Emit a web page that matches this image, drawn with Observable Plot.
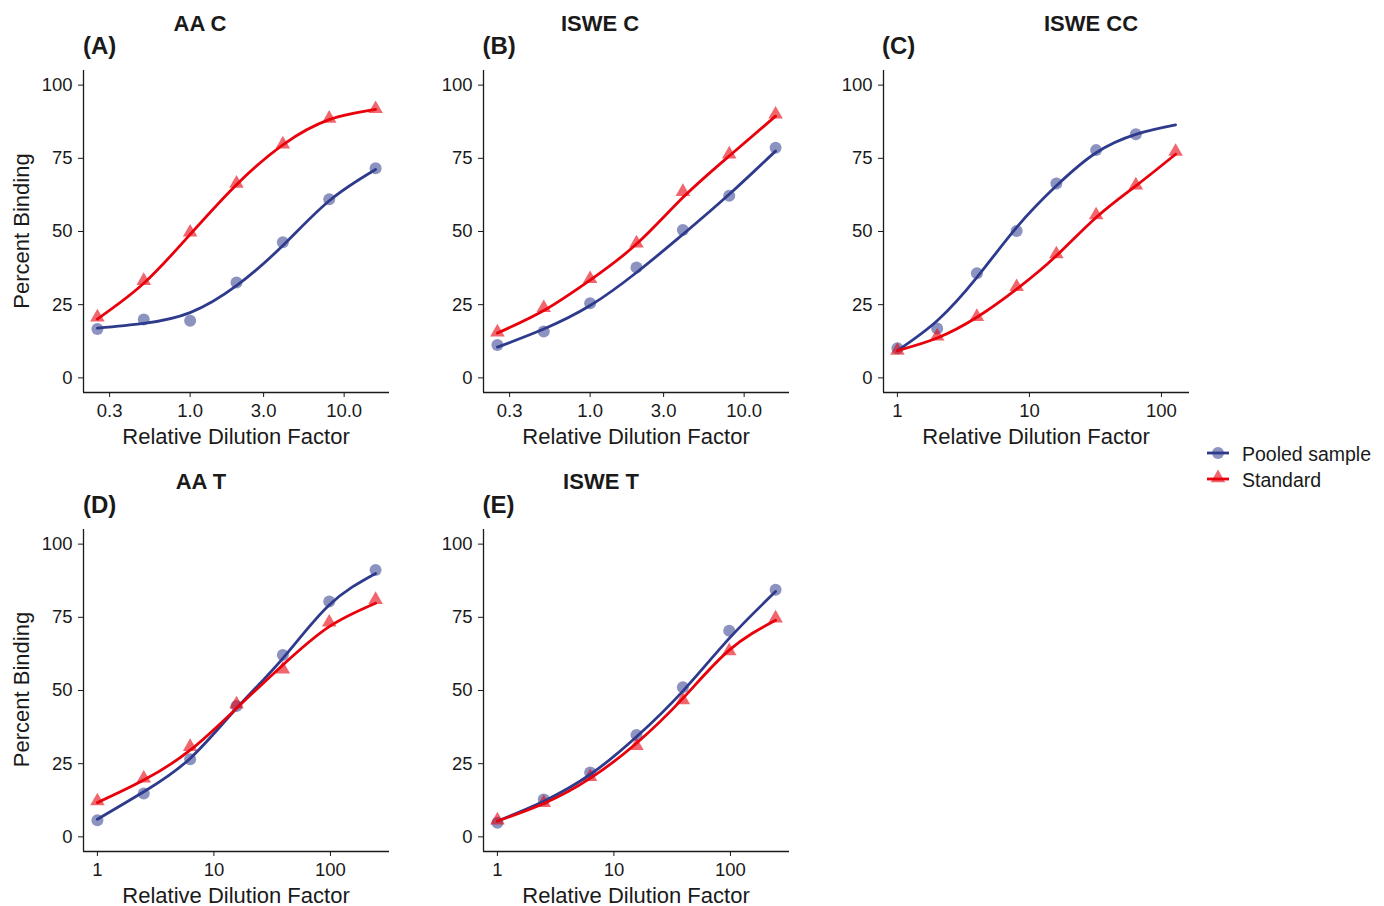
<!DOCTYPE html>
<html>
<head>
<meta charset="utf-8">
<script src="https://cdn.jsdelivr.net/npm/d3@7"></script>
<script src="https://cdn.jsdelivr.net/npm/@observablehq/plot@0.6"></script>
<style>
  html, body { margin: 0; padding: 0; background: #ffffff; }
  body { font-family: "Liberation Sans", Arial, sans-serif; }
  #fig { position: relative; width: 1384px; height: 906px; overflow: hidden; background: #fff; }
  .panel { position: absolute; }
  #overlay { position: absolute; left: 0; top: 0; pointer-events: none; }
</style>
</head>
<body>
<div id="fig"></div>
<script>
// ---------------- data ----------------
const seriesNames = ["Pooled sample", "Standard"];

const panelTitles = ["AA C", "ISWE C", "ISWE CC", "AA T", "ISWE T"];
const panelTags = ["(A)", "(B)", "(C)", "(D)", "(E)"];

const dilutionC = [0.25, 0.5, 1, 2, 4, 8, 16];
const dilutionCC = [1, 2, 4, 8, 16, 32, 64, 128];
const dilutionT = [1, 2.5, 6.25, 15.625, 39.0625, 97.65625, 244.140625];

const ticksC = [0.3, 1, 3, 10];
const tickLabelsC = ["0.3", "1.0", "3.0", "10.0"];
const ticksT = [1, 10, 100];
const tickLabelsT = ["1", "10", "100"];
const yTicks = [0, 25, 50, 75, 100];

// (A) AA C
const aaC_pooled = [16.7, 19.9, 19.5, 32.6, 46.3, 61.0, 71.6];
const aaC_standard = [20.7, 33.2, 49.7, 66.4, 79.8, 88.6, 91.9];
const aaC_pooledFit = [17.0, 18.6, 22.3, 31.5, 45.2, 60.5, 71.2];
const aaC_standardFit = [20.1, 32.3, 49.0, 66.0, 79.6, 88.2, 91.7];
// (B) ISWE C
const isweC_pooled = [11.2, 15.8, 25.5, 37.7, 50.5, 62.2, 78.6];
const isweC_standard = [15.6, 23.9, 33.8, 46.0, 63.6, 76.4, 90.0];
const isweC_pooledFit = [10.5, 16.7, 24.7, 36.0, 49.0, 62.7, 77.5];
const isweC_standardFit = [15.3, 23.0, 33.4, 45.7, 61.6, 75.8, 89.4];
// (C) ISWE CC (pooled points stop at 64)
const isweCC_pooled = [10.1, 16.9, 35.7, 50.2, 66.4, 77.8, 83.2];
const isweCC_standard = [9.3, 14.2, 20.9, 31.1, 42.3, 55.6, 65.8, 77.3];
const isweCC_pooledFit = [9.3, 19.5, 34.3, 51.4, 65.6, 76.9, 83.2, 86.4];
const isweCC_standardFit = [9.3, 13.6, 20.7, 30.3, 41.7, 54.8, 65.6, 76.4];
// (D) AA T
const aaT_pooled = [5.7, 14.8, 26.5, 44.7, 62.1, 80.4, 91.2];
const aaT_standard = [12.2, 20.0, 30.8, 45.3, 57.2, 73.3, 81.0];
const aaT_pooledFit = [6.0, 15.4, 26.8, 43.9, 61.0, 79.2, 90.0];
const aaT_standardFit = [11.7, 19.4, 29.6, 43.9, 58.7, 71.8, 79.8];
// (E) ISWE T
const isweT_pooled = [4.8, 12.8, 22.0, 34.8, 51.1, 70.4, 84.4];
const isweT_standard = [5.7, 11.6, 20.5, 31.1, 46.7, 63.5, 74.7];
const isweT_pooledFit = [5.4, 12.2, 21.3, 34.2, 49.8, 67.8, 83.8];
const isweT_standardFit = [5.4, 11.4, 20.0, 32.0, 47.3, 63.8, 74.0];

// ---------------- style ----------------
const BLUE = "#2E3A8C";
const RED = "#E8000B";
const INK = "#1a1a1a";
const FONT = "'Liberation Sans', Arial, Helvetica, sans-serif";

const panels = [
  { ox: 0,   oy: 0,     dil: dilutionC,  ticks: ticksC, labels: tickLabelsC, pooled: aaC_pooled,    standard: aaC_standard,    pooledFit: aaC_pooledFit,    standardFit: aaC_standardFit,    ylab: true },
  { ox: 400, oy: 0,     dil: dilutionC,  ticks: ticksC, labels: tickLabelsC, pooled: isweC_pooled,  standard: isweC_standard,  pooledFit: isweC_pooledFit,  standardFit: isweC_standardFit,  ylab: false },
  { ox: 800, oy: 0,     dil: dilutionCC, ticks: ticksT, labels: tickLabelsT, pooled: isweCC_pooled, standard: isweCC_standard, pooledFit: isweCC_pooledFit, standardFit: isweCC_standardFit, ylab: false },
  { ox: 0,   oy: 458.5, dil: dilutionT,  ticks: ticksT, labels: tickLabelsT, pooled: aaT_pooled,    standard: aaT_standard,    pooledFit: aaT_pooledFit,    standardFit: aaT_standardFit,    ylab: true },
  { ox: 400, oy: 458.5, dil: dilutionT,  ticks: ticksT, labels: tickLabelsT, pooled: isweT_pooled,  standard: isweT_standard,  pooledFit: isweT_pooledFit,  standardFit: isweT_standardFit,  ylab: false }
];

const W = 400, H = 450, ML = 83, MR = 11, MT = 70, MB = 58;
const fig = document.getElementById("fig");

function toPts(xs, ys) { return ys.map((v, i) => ({ x: xs[i], y: v })); }

panels.forEach((p, k) => {
  const lo = Math.log10(d3.min(p.dil)), hi = Math.log10(d3.max(p.dil));
  const pad = (hi - lo) * 0.05;
  const xDomain = [Math.pow(10, lo - pad), Math.pow(10, hi + pad)];
  const labelOf = new Map(p.ticks.map((t, i) => [t, p.labels[i]]));

  const chart = Plot.plot({
    width: W, height: H,
    marginLeft: ML, marginRight: MR, marginTop: MT, marginBottom: MB,
    style: { fontFamily: FONT, fontSize: "18.5px", color: INK, background: "transparent", overflow: "visible" },
    x: { type: "log", domain: xDomain, ticks: p.ticks, tickFormat: d => labelOf.get(d), tickSize: 5, tickPadding: 6, label: null },
    y: { domain: [-5, 105], ticks: yTicks, tickSize: 5, tickPadding: 6, label: null },
    marks: [
      Plot.ruleY([-5], { stroke: INK, strokeWidth: 1.3 }),
      Plot.ruleX([xDomain[0]], { stroke: INK, strokeWidth: 1.3 }),
      Plot.dot(toPts(p.dil, p.pooled), { x: "x", y: "y", r: 6, symbol: "circle", fill: BLUE, fillOpacity: 0.55, stroke: "none" }),
      Plot.dot(toPts(p.dil, p.standard), { x: "x", y: "y", r: 5.4, symbol: "triangle", fill: RED, fillOpacity: 0.6, stroke: "none" }),
      Plot.line(toPts(p.dil, p.pooledFit), { x: "x", y: "y", stroke: BLUE, strokeWidth: 2.8, curve: "natural" }),
      Plot.line(toPts(p.dil, p.standardFit), { x: "x", y: "y", stroke: RED, strokeWidth: 2.8, curve: "natural" })
    ]
  });
  const holder = document.createElement("div");
  holder.className = "panel";
  holder.style.left = p.ox + "px";
  holder.style.top = p.oy + "px";
  holder.appendChild(chart);
  fig.appendChild(holder);
});

// ---------------- text overlay & legend ----------------
const NS = "http://www.w3.org/2000/svg";
const svg = document.createElementNS(NS, "svg");
svg.setAttribute("id", "overlay");
svg.setAttribute("width", 1384);
svg.setAttribute("height", 906);
svg.setAttribute("font-family", FONT);
fig.appendChild(svg);

function txt(s, x, y, opts = {}) {
  const t = document.createElementNS(NS, "text");
  t.setAttribute("x", x); t.setAttribute("y", y);
  t.setAttribute("fill", opts.fill || INK);
  t.setAttribute("font-size", opts.size || 20);
  if (opts.bold) t.setAttribute("font-weight", "bold");
  t.setAttribute("text-anchor", opts.anchor || "start");
  if (opts.rotate) t.setAttribute("transform", `rotate(-90 ${x} ${y})`);
  t.textContent = s;
  svg.appendChild(t);
}

const titleX = [200, 600, 1091, 201, 601];
const titleBase = [31, 31, 31, 489, 489];
const tagX = [83, 482.5, 882, 83, 482.5];
const tagBase = [54, 54, 54, 513, 513];

panels.forEach((p, k) => {
  txt(panelTitles[k], titleX[k], titleBase[k], { bold: true, size: 22, anchor: "middle" });
  txt(panelTags[k], tagX[k], tagBase[k], { bold: true, size: 24 });
  const cx = p.ox + (ML + (W - MR)) / 2;
  txt("Relative Dilution Factor", cx, p.oy + 444, { size: 22, anchor: "middle" });
  if (p.ylab) txt("Percent Binding", p.ox + 29, p.oy + 231, { size: 22, anchor: "middle", rotate: true });
});

// legend
const legY = [453, 479];
const legColors = [BLUE, RED];
seriesNames.forEach((name, i) => {
  const y = legY[i];
  const ln = document.createElementNS(NS, "line");
  ln.setAttribute("x1", 1207); ln.setAttribute("x2", 1229);
  ln.setAttribute("y1", y); ln.setAttribute("y2", y);
  ln.setAttribute("stroke", legColors[i]); ln.setAttribute("stroke-width", 2.8);
  if (i === 0) {
    const c = document.createElementNS(NS, "circle");
    c.setAttribute("cx", 1218); c.setAttribute("cy", y); c.setAttribute("r", 6);
    c.setAttribute("fill", BLUE); c.setAttribute("fill-opacity", 0.55);
    svg.appendChild(c);
  } else {
    const tr = document.createElementNS(NS, "path");
    tr.setAttribute("d", d3.symbol(d3.symbolTriangle, Math.PI * 5.4 * 5.4)());
    tr.setAttribute("transform", `translate(1218 ${y - 1})`);
    tr.setAttribute("fill", RED); tr.setAttribute("fill-opacity", 0.6);
    svg.appendChild(tr);
  }
  svg.appendChild(ln);
  txt(name, 1242, y + 7.5, { size: 19.5 });
});
</script>
</body>
</html>
